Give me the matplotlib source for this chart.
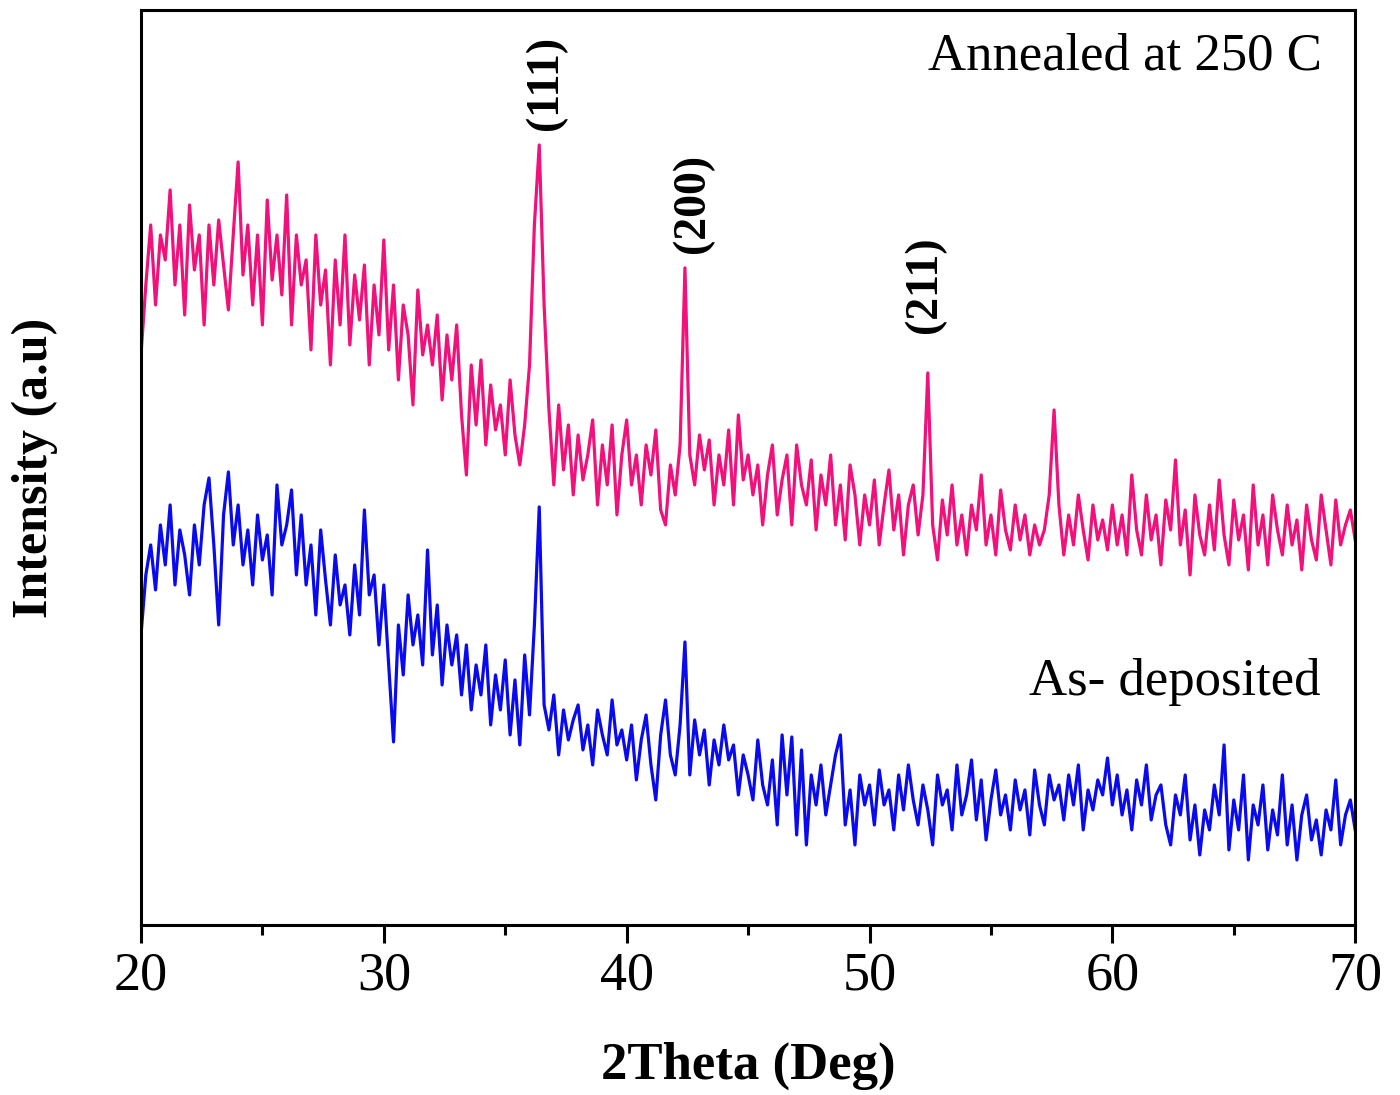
import numpy as np
import matplotlib
matplotlib.use("Agg")
import matplotlib.pyplot as plt
from matplotlib.ticker import MultipleLocator

# Diffractogrammes (pas de 0.2 deg, de 20 a 70)
two_theta = np.round(np.arange(20.0, 70.001, 0.2), 1)

recuit_250 = [
    570, 640, 700, 620, 690, 665, 735, 640, 700, 610,
    720, 655, 690, 600, 700, 640, 705, 660, 615, 690,
    763, 650, 700, 620, 690, 600, 725, 645, 690, 630,
    730, 600, 690, 640, 665, 575, 690, 620, 655, 560,
    665, 600, 690, 580, 650, 605, 660, 560, 640, 590,
    685, 575, 640, 545, 620, 590, 520, 635, 570, 600,
    560, 610, 525, 590, 545, 600, 510, 450, 560, 500,
    565, 480, 540, 495, 520, 470, 545, 490, 460, 500,
    560, 700, 780, 620, 515, 440, 520, 455, 500, 430,
    490, 445, 470, 505, 420, 480, 440, 500, 410, 470,
    505, 440, 470, 420, 480, 450, 495, 415, 400, 460,
    430, 480, 657, 470, 440, 490, 455, 485, 420, 470,
    440, 495, 420, 510, 445, 470, 430, 460, 400, 450,
    480, 410, 445, 470, 400, 480, 440, 420, 465, 395,
    450, 420, 470, 400, 440, 385, 460, 430, 380, 430,
    400, 445, 380, 420, 455, 395, 430, 370, 420, 440,
    390, 430, 552, 400, 365, 425, 390, 440, 380, 410,
    370, 420, 395, 450, 380, 410, 370, 435, 395, 375,
    420, 385, 410, 370, 400, 380, 395, 430, 515, 420,
    370, 410, 380, 430, 395, 365, 420, 385, 405, 375,
    420, 380, 410, 370, 450, 395, 370, 430, 385, 410,
    360, 425, 395, 465, 380, 415, 350, 430, 390, 370,
    420, 375, 445, 390, 360, 425, 385, 410, 355, 440,
    380, 410, 360, 430, 395, 370, 420, 380, 405, 355,
    420, 385, 365, 430, 395, 360, 425, 380, 400, 415,
    385,
]

depose = [
    290, 350, 380, 335, 400, 360, 420, 340, 395, 370,
    330, 400, 360, 420, 447, 380, 300, 410, 453, 380,
    420, 360, 395, 340, 410, 365, 390, 330, 440, 380,
    400, 435, 350, 410, 340, 380, 310, 395, 345, 300,
    370, 320, 340, 290, 360, 310, 415, 330, 350, 280,
    340, 260, 183, 300, 250, 330, 280, 310, 260, 375,
    270, 320, 240, 300, 260, 290, 230, 280, 215, 260,
    230, 280, 200, 250, 215, 265, 190, 245, 180, 270,
    210, 300, 418, 220, 195, 230, 170, 215, 185, 205,
    220, 175, 200, 160, 215, 190, 170, 225, 180, 195,
    165, 200, 145, 185, 210, 160, 125, 190, 225, 170,
    150, 200, 283, 150, 205, 170, 195, 140, 185, 160,
    200, 165, 180, 130, 170, 150, 125, 185, 140, 120,
    165, 100, 190, 130, 188, 90, 175, 80, 150, 120,
    160, 110, 140, 170, 190, 100, 135, 80, 150, 120,
    140, 100, 155, 120, 135, 95, 150, 115, 160, 125,
    100, 140, 115, 80, 150, 120, 135, 95, 160, 110,
    130, 165, 105, 145, 85, 125, 155, 110, 130, 95,
    145, 115, 135, 90, 155, 120, 100, 150, 125, 140,
    105, 150, 120, 160, 95, 135, 115, 145, 130, 167,
    120, 150, 110, 135, 95, 145, 120, 160, 105, 130,
    140, 100, 80, 130, 110, 150, 85, 120, 70, 115,
    95, 140, 110, 180, 75, 125, 95, 150, 65, 120,
    100, 140, 75, 115, 90, 150, 80, 120, 65, 110,
    130, 85, 105, 70, 115, 95, 145, 80, 110, 125,
    95,
]

# Indexation des pics (position, hauteur du texte)
pics_hkl = ["(111)", "(200)", "(211)"]
pics_pos = [36.68, 42.73, 52.29]
pics_y = [842, 722, 640]

plt.rcParams['font.family'] = ['Liberation Serif', 'DejaVu Serif']

fig = plt.figure(figsize=(14, 10.95), dpi=100)
ax = fig.add_axes([0.1007, 0.1553, 0.8673, 0.8356])

ax.plot(two_theta, recuit_250, color='#F2107A', lw=2.3)
ax.plot(two_theta, depose, color='#0A0AEE', lw=2.3)

for lab, xp, yp in zip(pics_hkl, pics_pos, pics_y):
    ax.text(xp, yp, lab, rotation=90, ha='center', va='center',
            fontsize=33, fontweight='bold')

ax.text(68.64, 868, "Annealed at 250 C", ha='right', va='center', fontsize=38)
ax.text(68.56, 243, "As- deposited", ha='right', va='center', fontsize=38)

ax.set_xlim(20, 70)
ax.set_ylim(0, 915)
ax.xaxis.set_major_locator(MultipleLocator(10))
ax.xaxis.set_minor_locator(MultipleLocator(5))
ax.tick_params(axis='x', which='major', direction='out', length=13, width=2.2,
               labelsize=39, pad=6)
ax.tick_params(axis='x', which='minor', direction='out', length=7, width=2.2)
ax.set_yticks([])
for s in ax.spines.values():
    s.set_linewidth(2.2)

ax.set_xlabel("2Theta (Deg)", fontsize=38, fontweight='bold')
ax.xaxis.set_label_coords(0.5, -0.128)
ax.set_ylabel("Intensity (a.u)", fontsize=36, fontweight='bold')
ax.yaxis.set_label_coords(-0.068, 0.5)

fig.savefig("out.png", dpi=100)
